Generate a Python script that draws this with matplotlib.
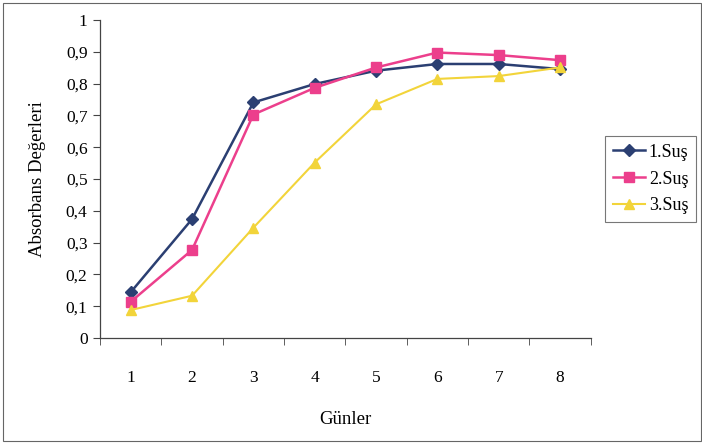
import matplotlib
matplotlib.use("Agg")
import matplotlib.pyplot as plt
import numpy as np

categories = ["1", "2", "3", "4", "5", "6", "7", "8"]
sus1 = [0.144, 0.374, 0.741, 0.799, 0.841, 0.862, 0.862, 0.846]
sus2 = [0.114, 0.277, 0.703, 0.787, 0.851, 0.898, 0.890, 0.874]
sus3 = [0.088, 0.133, 0.347, 0.552, 0.735, 0.815, 0.824, 0.851]
yticks = [0, 0.1, 0.2, 0.3, 0.4, 0.5, 0.6, 0.7, 0.8, 0.9, 1]
ytick_labels = ["0", "0,1", "0,2", "0,3", "0,4", "0,5", "0,6", "0,7", "0,8", "0,9", "1"]

plt.rcParams['font.family'] = ['Liberation Serif', 'DejaVu Serif']

fig = plt.figure(figsize=(7.02, 4.44), dpi=100)
ax = fig.add_axes([0.1425, 0.2387, 0.699, 0.716])

x = np.arange(len(categories))
ax.plot(x, sus1, color='#2B3F72', marker='D', markersize=6, lw=1.8, label='1.Suş')
ax.plot(x, sus2, color='#EC3F8C', marker='s', markersize=7, lw=1.8, label='2.Suş')
ax.plot(x, sus3, color='#F2D43A', marker='^', markersize=7, lw=1.5, label='3.Suş')

ax.set_xlim(-0.5, len(categories) - 0.5)
ax.set_ylim(0, 1)
ax.set_yticks(yticks)
ax.set_yticklabels(ytick_labels, fontsize=12.5)
ax.set_xticks(x)
ax.set_xticklabels(categories, fontsize=12.5)
ax.set_xticks(np.arange(len(categories) + 1) - 0.5, minor=True)
ax.tick_params(axis='x', which='major', length=0, pad=23)
ax.tick_params(axis='x', which='minor', length=5, direction='out', color='#444444')
ax.tick_params(axis='y', length=5, direction='out', color='#444444', pad=4)
ax.spines['top'].set_visible(False)
ax.spines['right'].set_visible(False)
for s in ['left', 'bottom']:
    ax.spines[s].set_color('#444444')
    ax.spines[s].set_linewidth(0.9)

ax.set_ylabel('Absorbans Değerleri', fontsize=13.5, labelpad=14)
ax.set_xlabel('Günler', fontsize=13.5, labelpad=18)

leg = ax.legend(loc='center left', bbox_to_anchor=(1.03, 0.5), fontsize=13,
                frameon=True, fancybox=False, edgecolor='#555555',
                handlelength=1.8, handletextpad=0.2, borderpad=0.4, borderaxespad=0,
                labelspacing=0.55)
leg.get_frame().set_linewidth(0.8)

fig.patches.append(plt.Rectangle((0.004, 0.006), 0.994, 0.988, transform=fig.transFigure,
                                 fill=False, edgecolor='#666666', lw=0.8))

fig.savefig('out.png', dpi=100)
